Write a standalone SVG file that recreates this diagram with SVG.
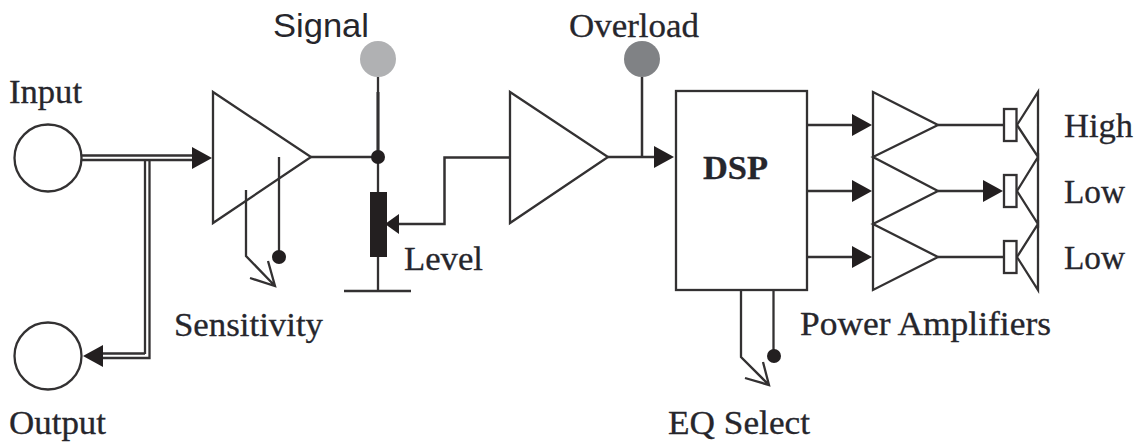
<svg xmlns="http://www.w3.org/2000/svg" width="1142" height="446" viewBox="0 0 1142 446">
<style>
.l{fill:none;stroke:#333132;stroke-width:2.300}
.s{fill:#fff;stroke:#333132;stroke-width:2.300;stroke-linejoin:miter}
.a{fill:#231f20;stroke:none}
.t{font-family:"Liberation Serif",serif;font-size:33px;fill:#26262c;stroke:#26262c;stroke-width:.3}
.h{font-family:"Liberation Sans",sans-serif;font-size:34px;fill:#26262c}
.b{font-weight:bold}
</style>
<rect width="1142" height="446" fill="#fff"/>
<g id="connectors">
<path class="l" d="M82 155.500H193M82 160H193M145 159V354M149.500 159V358H100M100 353.500H145"/>
<path class="a" d="M212 158L192 147V169Z"/>
<path class="a" d="M83 356L103 345V367Z"/>
<path class="l" d="M311 157H378M378 77V291M344 291H411"/>
<path class="l" d="M378 92V157" style="stroke-width:3"/>
<path class="l" d="M392 224H444.500V157.500H510" style="stroke-width:2.500"/>
<path class="l" d="M608 157H656M642 77V157" style="stroke-width:2.500"/>
<path class="a" d="M674 157L654 146V168Z"/>
<path class="l" d="M246 190V256L275 286M250 278L275 286L268 261"/>
<path class="l" d="M279 157V257"/>
<path class="l" d="M741 291V357L769 385M745 378L769 385L763 362"/>
<path class="l" d="M773.500 291V356"/>
<path class="l" d="M807 125H856M807 191H856M807 257H856" style="stroke-width:2.500"/>
<path class="a" d="M872 125L852 114V136Z"/>
<path class="a" d="M872 191L852 180V202Z"/>
<path class="a" d="M872 257L852 246V268Z"/>
<path class="l" d="M938 125H1004M938 257H1004"/>
<path class="l" d="M938 191H985" style="stroke-width:2.500"/>
<path class="a" d="M1003 191L983 180V202Z"/>
</g>
<g id="input"><circle class="s" cx="48" cy="158" r="33.500"/><text class="t" x="9" y="103" textLength="73" lengthAdjust="spacingAndGlyphs">Input</text></g>
<g id="output"><circle class="s" cx="48" cy="356" r="33.500"/><text class="t" x="9" y="434" textLength="97" lengthAdjust="spacingAndGlyphs">Output</text></g>
<g id="amp1"><path d="M213 92L311 157L213 223Z" fill="none" stroke="#333132" stroke-width="2.300"/></g>
<g id="sensitivity"><circle class="a" cx="279" cy="257" r="7"/><text class="t" x="174" y="336" textLength="149" lengthAdjust="spacingAndGlyphs">Sensitivity</text></g>
<g id="signal"><circle cx="378" cy="59" r="18" fill="#b0b1b3"/><circle class="a" cx="378" cy="157" r="7"/><text class="h" x="273" y="37" textLength="96" lengthAdjust="spacingAndGlyphs">Signal</text></g>
<g id="level"><rect class="a" x="370" y="192" width="17" height="65"/><path class="a" d="M385 224L399 214V234Z"/><text class="t" x="404" y="270" textLength="79" lengthAdjust="spacingAndGlyphs">Level</text></g>
<g id="amp2"><path class="s" d="M510 92L608 157L510 223Z"/></g>
<g id="overload"><circle cx="642" cy="59" r="18" fill="#808285"/><text class="t" x="569" y="37" textLength="130" lengthAdjust="spacingAndGlyphs">Overload</text></g>
<g id="dsp"><rect x="676" y="91" width="131" height="199" fill="none" stroke="#333132" stroke-width="2.300"/><text class="t b" x="703" y="179" textLength="65" lengthAdjust="spacingAndGlyphs">DSP</text></g>
<g id="eq-select"><circle class="a" cx="774" cy="356" r="7"/><text class="t" x="668" y="434" textLength="142" lengthAdjust="spacingAndGlyphs">EQ Select</text></g>
<g id="power-amplifiers"><path class="l" d="M873 92L938 125L873 157L938 191L873 224L938 257L873 290ZM873 92V290"/><text class="t" x="800" y="335" textLength="251" lengthAdjust="spacingAndGlyphs">Power Amplifiers</text></g>
<g id="speaker-high"><rect class="s" x="1004" y="109" width="12.500" height="32"/><path class="l" d="M1017 125L1038 92V157L1017 125"/><text class="t" x="1064" y="137" textLength="69" lengthAdjust="spacingAndGlyphs">High</text></g>
<g id="speaker-low1"><rect class="s" x="1004" y="175" width="12.500" height="32"/><path class="l" d="M1017 191L1038 157V224L1017 191"/><text class="t" x="1064" y="203" textLength="61" lengthAdjust="spacingAndGlyphs">Low</text></g>
<g id="speaker-low2"><rect class="s" x="1004" y="241" width="12.500" height="32"/><path class="l" d="M1017 257L1038 224V290L1017 257"/><text class="t" x="1064" y="269" textLength="61" lengthAdjust="spacingAndGlyphs">Low</text></g>
</svg>
